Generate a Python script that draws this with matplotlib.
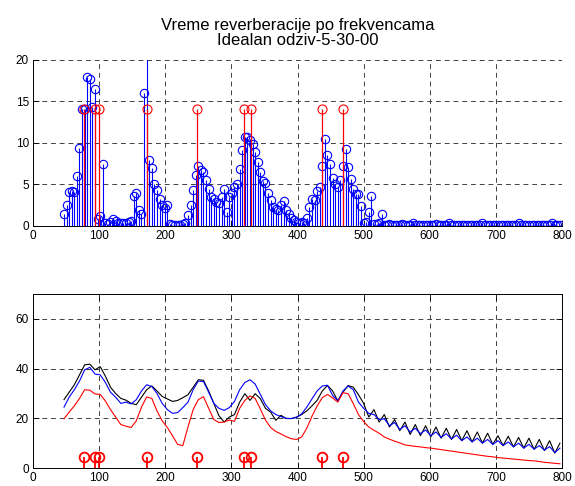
"""
Vreme reverberacije po frekvencama - stem prikaz i krive odziva.
"""

import matplotlib
matplotlib.use("Agg")
import matplotlib.pyplot as plt
import numpy as np

# ---------------------------------------------------------------------------
# PODACI (procitani sa slike)
# ---------------------------------------------------------------------------

# frekvencijska mreza: binovi k = 12..204, korak 3.90625 Hz
DF = 3.90625
K_STEM = np.arange(12, 205)
F_STEM = K_STEM * DF

BLUE_STEM = [
    1.4, 2.5, 4.1, 4.2, 4.1, 6.0, 9.4, 14.1, 14.1, 18.0,
    17.7, 14.3, 16.5, 0.9, 1.2, 7.5, 0.3, 0.2, 0.5, 0.8,
    0.6, 0.4, 0.3, 0.4, 0.4, 0.5, 0.6, 3.6, 4.0, 1.9,
    1.4, 16.0, 25.0, 7.9, 7.0, 5.0, 4.3, 3.3, 2.5, 2.2,
    2.5, 0.2, 0.1, 0.1, 0.1, 0.1, 0.2, 0.3, 1.3, 2.5,
    4.3, 6.1, 7.2, 6.8, 6.5, 5.5, 4.5, 3.5, 3.2, 2.9,
    2.8, 3.5, 4.5, 1.7, 3.5, 4.0, 4.7, 5.0, 6.9, 9.2,
    10.7, 10.7, 10.3, 9.9, 8.9, 7.7, 6.5, 5.4, 5.2, 4.0,
    3.1, 2.3, 2.1, 1.9, 2.5, 3.0, 1.9, 1.5, 1.0, 0.7,
    0.5, 0.4, 0.5, 0.4, 1.0, 2.3, 3.3, 3.1, 4.2, 4.7,
    7.2, 10.5, 8.5, 7.5, 5.8, 5.0, 4.7, 5.6, 7.2, 9.3,
    7.1, 5.7, 4.5, 3.9, 3.8, 2.4, 0.3, 0.5, 1.7, 3.6,
    0.2, 0.2, 0.3, 1.4, 0.1, 0.1, 0.2, 0.1, 0.1, 0.1,
    0.1, 0.2, 0.1, 0.1, 0.1, 0.3, 0.1, 0.1, 0.1, 0.1,
    0.1, 0.1, 0.1, 0.1, 0.2, 0.1, 0.1, 0.1, 0.1, 0.3,
    0.1, 0.1, 0.1, 0.1, 0.1, 0.1, 0.1, 0.1, 0.1, 0.1,
    0.1, 0.1, 0.3, 0.1, 0.1, 0.1, 0.1, 0.1, 0.1, 0.1,
    0.1, 0.1, 0.1, 0.1, 0.1, 0.1, 0.3, 0.1, 0.1, 0.1,
    0.1, 0.1, 0.1, 0.1, 0.1, 0.1, 0.1, 0.1, 0.1, 0.3,
    0.1, 0.1, 0.1,
]

# modovi (crveni stemovi)
F_MOD = [77.6, 94.5, 99.5, 172.0, 248.0, 319.5, 329.0, 437.5, 468.5]
V_MOD_TOP = [14.1] * len(F_MOD)
V_MOD_BOT = [4.5] * len(F_MOD)

# krive u donjem grafiku: korak 2 bina (7.8125 Hz), od 46.875 do 796.875
F_LINE = np.arange(12, 205, 2) * DF

BLACK = [
    27.5, 30.5, 33.5, 37.5, 41.5, 41.8, 39.5, 40.8, 37.0, 32.5,
    30.0, 28.0, 27.3, 26.0, 25.5, 28.5, 31.5, 33.0, 31.0, 28.8,
    27.8, 26.8, 27.2, 28.3, 29.5, 32.5, 35.5, 35.3, 31.0, 26.0,
    21.0, 18.5, 20.5, 21.5, 26.5, 29.9, 27.2, 29.9, 27.9, 24.0,
    22.5, 19.2, 21.2, 19.9, 19.9, 20.5, 21.5, 23.0, 25.0, 27.2,
    31.0, 33.2, 31.0, 27.0, 30.5, 33.2, 32.5, 29.5, 26.0, 20.5,
    23.5, 18.5, 21.5, 16.5, 19.5, 15.0, 18.5, 13.5, 17.5, 13.0,
    17.0, 12.5, 16.5, 12.0, 16.0, 11.5, 15.5, 11.0, 15.0, 10.5,
    14.5, 10.0, 14.0, 9.5, 13.0, 9.0, 12.8, 8.5, 12.3, 8.0,
    12.0, 7.5, 11.5, 7.0, 11.0, 6.0, 10.0,
]

BLUE = [
    24.5, 28.5, 31.5, 35.0, 39.5, 40.5, 37.8, 37.5, 34.5, 30.5,
    28.5, 26.0, 26.5, 25.8, 27.5, 31.0, 33.5, 32.8, 30.0, 26.0,
    23.5, 22.0, 22.3, 24.3, 26.5, 31.5, 35.0, 34.8, 30.5, 26.0,
    24.0, 23.2, 24.3, 26.8, 31.5, 34.4, 35.5, 33.8, 29.6, 25.5,
    23.0, 21.5, 20.7, 20.0, 19.9, 20.3, 21.8, 24.5, 27.8, 31.0,
    33.0, 33.3, 29.2, 27.0, 31.0, 33.0, 31.5, 26.5, 24.0, 22.0,
    21.5, 19.5, 19.8, 17.0, 18.3, 15.5, 17.0, 14.5, 16.0, 13.8,
    15.3, 13.0, 14.5, 12.3, 13.8, 11.7, 13.2, 11.0, 12.5, 10.5,
    12.0, 10.0, 11.5, 9.5, 11.0, 9.0, 10.5, 8.5, 10.0, 8.0,
    9.5, 7.6, 9.0, 7.2, 8.6, 6.2, 8.0,
]

RED = [
    19.8, 22.5, 25.0, 28.0, 31.5, 31.3, 29.8, 29.6, 27.0, 23.5,
    20.5, 17.5, 16.8, 16.3, 19.0, 24.5, 28.6, 28.0, 23.0, 19.0,
    16.3, 13.0, 9.5, 9.0, 16.5, 23.5, 27.5, 28.7, 24.0, 19.5,
    18.3, 18.5, 19.3, 18.8, 24.0, 27.2, 29.0, 28.0, 23.8, 19.3,
    16.3, 14.7, 13.7, 12.6, 11.8, 11.5, 12.5, 16.0, 20.8, 25.0,
    28.3, 29.6, 28.2, 26.5, 30.3, 29.9, 25.9, 21.5, 18.7, 16.5,
    15.2, 14.0, 12.5, 11.6, 10.8, 10.1, 9.3, 9.0, 8.7, 8.5,
    8.2, 8.0, 7.7, 7.4, 7.1, 6.8, 6.5, 6.2, 5.9, 5.6,
    5.3, 5.0, 4.7, 4.5, 4.2, 4.0, 3.8, 3.6, 3.4, 3.2,
    3.0, 2.9, 2.6, 2.3, 2.1, 1.9, 1.7,
]

XTICKS = [0, 100, 200, 300, 400, 500, 600, 700, 800]
YTICKS_TOP = [0, 5, 10, 15, 20]
YTICKS_BOT = [0, 20, 40, 60]

NASLOV = "Vreme reverberacije po frekvencama\nIdealan odziv-5-30-00"

# ---------------------------------------------------------------------------
# FIGURA
# ---------------------------------------------------------------------------

plt.rcParams["font.family"] = ["Liberation Sans", "DejaVu Sans"]
plt.rcParams["font.size"] = 8.5

fig = plt.figure(figsize=(5.75, 4.86), dpi=100)
fig.patch.set_facecolor("white")

GRID_KW = dict(color="0.25", linestyle=(0, (5, 4)), linewidth=0.7)


def stil(ax, box=True):
    ax.set_xlim(0, 800)
    ax.set_xticks(XTICKS)
    ax.tick_params(direction="in", length=4, width=0.6, labelsize=8.5,
                   pad=3, top=box, right=box)
    ax.grid(True, **GRID_KW)
    ax.set_axisbelow(True)
    for s in ax.spines.values():
        s.set_linewidth(0.7)
    if not box:
        ax.spines["top"].set_visible(False)
        ax.spines["right"].set_visible(False)


# --- gornji: stem ---
ax1 = fig.add_axes([0.0574, 0.535, 0.92, 0.3416])
ml, sl, bl = ax1.stem(F_STEM, BLUE_STEM, linefmt="b-", markerfmt="bo", basefmt=" ")
ml.set_markerfacecolor("none")
ml.set_markersize(6)
ml.set_markeredgewidth(0.8)
sl.set_linewidth(0.8)

ml2, sl2, bl2 = ax1.stem(F_MOD, V_MOD_TOP, linefmt="r-", markerfmt="ro", basefmt=" ")
ml2.set_markerfacecolor("none")
ml2.set_markersize(6.5)
ml2.set_markeredgewidth(0.8)
sl2.set_linewidth(0.9)

ax1.set_ylim(0, 20)
ax1.set_yticks(YTICKS_TOP)
stil(ax1, box=False)
ax1.set_title(NASLOV, fontsize=12, linespacing=1.0, pad=11)

# --- donji: krive ---
ax2 = fig.add_axes([0.0574, 0.037, 0.92, 0.358])
ax2.plot(F_LINE, BLACK, color="k", linewidth=0.8)
ax2.plot(F_LINE, BLUE, color="b", linewidth=0.8)
ax2.plot(F_LINE, RED, color="r", linewidth=0.8)

ml3, sl3, bl3 = ax2.stem(F_MOD, V_MOD_BOT, linefmt="r-", markerfmt="ro", basefmt=" ")
ml3.set_markerfacecolor("none")
ml3.set_markersize(7)
ml3.set_markeredgewidth(1.3)
sl3.set_linewidth(1.3)

ax2.set_ylim(0, 70)
ax2.set_yticks(YTICKS_BOT)
stil(ax2, box=True)

fig.savefig("out.png", dpi=100, facecolor="white")
